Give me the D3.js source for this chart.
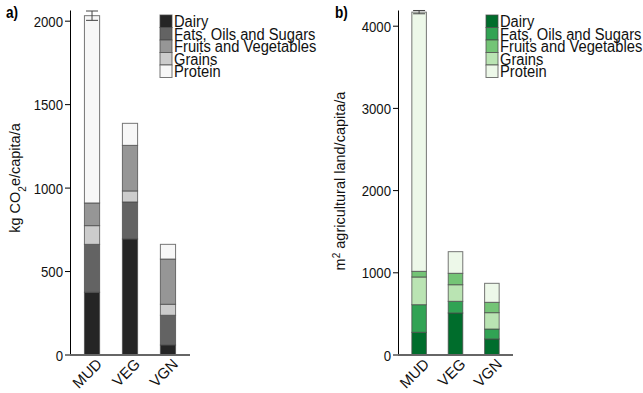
<!DOCTYPE html>
<html>
<head>
<meta charset="utf-8">
<script src="https://cdn.jsdelivr.net/npm/d3@7"></script>
<style>
  html, body { margin: 0; padding: 0; background: #fff; }
  svg { display: block; font-family: "Liberation Sans", Arial, sans-serif; }
</style>
</head>
<body>
<svg id="chart" width="643" height="393"></svg>
<script>
// Diet scenarios and food groups (stacking order bottom to top)
const categories = ["MUD", "VEG", "VGN"];
const groups = ["Dairy", "Fats, Oils and Sugars", "Grains", "Fruits and Vegetables", "Protein"];
const legendOrder = ["Dairy", "Fats, Oils and Sugars", "Fruits and Vegetables", "Grains", "Protein"];

// a) climate impact, kg CO2e per capita per year
const co2Dairy   = [373, 692, 57];
const co2Fats    = [287, 222, 178];
const co2Grains  = [112, 66, 66];
const co2Fruits  = [136, 273, 271];
const co2Protein = [1122, 132, 88];
const co2Error   = [28, 0, 0];
const co2Ticks   = [0, 500, 1000, 1500, 2000];

// b) agricultural land use, m2 per capita per year
const landDairy   = [270, 505, 189];
const landFats    = [336, 142, 121];
const landGrains  = [337, 202, 199];
const landFruits  = [69, 139, 126];
const landProtein = [3153, 263, 231];
const landError   = [20, 0, 0];
const landTicks   = [0, 1000, 2000, 3000, 4000];

const grays  = { "Dairy": "#252525", "Fats, Oils and Sugars": "#636363", "Fruits and Vegetables": "#969696", "Grains": "#cccccc", "Protein": "#f7f7f7" };
const greens = { "Dairy": "#006d2c", "Fats, Oils and Sugars": "#31a354", "Fruits and Vegetables": "#74c476", "Grains": "#bae4b3", "Protein": "#edf8e9" };

const svg = d3.select("#chart");
const SQ = 0.85; // horizontal squeeze of the tick lettering

function rows(d, f, g, fr, p) {
  return categories.map((c, i) => ({
    cat: c,
    "Dairy": d[i], "Fats, Oils and Sugars": f[i], "Grains": g[i],
    "Fruits and Vegetables": fr[i], "Protein": p[i]
  }));
}

function panel(opt) {
  const g = svg.append("g");
  const x = d3.scaleBand().domain(categories).range([opt.x0, opt.x1])
    .paddingInner(0.6).paddingOuter(0.38);
  const y = d3.scaleLinear().domain([0, opt.yMax]).range([354.5, 10]);

  const series = d3.stack().keys(groups)(opt.data);

  // stacked bars
  g.append("g").selectAll("g").data(series).join("g")
    .attr("fill", s => opt.colors[s.key])
    .selectAll("rect").data(s => s).join("rect")
      .attr("x", d => x(d.data.cat))
      .attr("width", x.bandwidth())
      .attr("y", d => y(d[1]))
      .attr("height", d => y(d[0]) - y(d[1]))
      .attr("stroke", "#4a4a4a")
      .attr("stroke-opacity", 0.75)
      .attr("stroke-width", 1);

  // error bars on totals
  const totals = opt.data.map(r => groups.reduce((a, k) => a + r[k], 0));
  opt.err.forEach((e, i) => {
    if (!e) return;
    const cx = x(categories[i]) + x.bandwidth() / 2;
    const eb = g.append("g").attr("stroke", "#444").attr("stroke-width", 1);
    eb.append("line").attr("x1", cx).attr("x2", cx).attr("y1", y(totals[i] + e)).attr("y2", y(totals[i] - e));
    eb.append("line").attr("x1", cx - 6).attr("x2", cx + 6).attr("y1", y(totals[i] + e)).attr("y2", y(totals[i] + e));
    eb.append("line").attr("x1", cx - 6).attr("x2", cx + 6).attr("y1", y(totals[i] - e)).attr("y2", y(totals[i] - e));
  });

  // y axis
  const ya = g.append("g").attr("transform", `translate(${opt.x0},0)`)
    .call(d3.axisLeft(y).tickValues(opt.ticks).tickSize(5).tickSizeOuter(0).tickFormat(d3.format("d")));
  ya.select(".domain").attr("stroke", "#000");
  ya.selectAll(".tick line").attr("stroke", "#000");
  ya.selectAll(".tick text")
    .attr("font-size", 15.5).attr("fill", "#111")
    .attr("font-family", "Liberation Sans, Arial, sans-serif")
    .attr("x", -7 / SQ).attr("dy", "0.36em")
    .attr("transform", `scale(${SQ},1)`);

  // x baseline
  g.append("line").attr("x1", opt.x0).attr("x2", opt.x1)
    .attr("y1", y(0) + 0.5).attr("y2", y(0) + 0.5)
    .attr("stroke", "#666").attr("stroke-width", 2);

  // rotated category labels
  g.append("g").selectAll("text").data(categories).join("text")
    .attr("transform", d => `translate(${x(d) + x.bandwidth() / 2 + 11},${365}) rotate(-45)`)
    .attr("text-anchor", "end")
    .attr("font-size", 15).attr("fill", "#111")
    .text(d => d);

  // panel letter
  g.append("text").attr("transform", `translate(${opt.letterX},18) scale(${SQ},1)`)
    .attr("font-size", 16).attr("font-weight", "bold").text(opt.letter);

  // y label
  const yl = g.append("text")
    .attr("transform", `translate(${opt.labelX},${opt.labelY}) rotate(-90)`)
    .attr("text-anchor", "middle").attr("font-size", 14.5).attr("fill", "#111");
  opt.label(yl);

  // legend
  const lg = g.append("g").attr("transform", `translate(${opt.legX},15)`);
  legendOrder.forEach((k, i) => {
    lg.append("rect").attr("x", 0).attr("y", i * 12.5).attr("width", 12).attr("height", 12.5)
      .attr("fill", opt.colors[k]).attr("stroke", "#4a4a4a").attr("stroke-opacity", 0.75);
    lg.append("text").attr("transform", `translate(14,${i * 12.5 + 12}) scale(0.92,1)`)
      .attr("font-size", 16).attr("fill", "#111").text(k);
  });
}

panel({
  x0: 70, x1: 190, yMax: 2064, ticks: co2Ticks,
  data: rows(co2Dairy, co2Fats, co2Grains, co2Fruits, co2Protein),
  err: co2Error, colors: grays, letter: "a)", letterX: 6,
  labelX: 20, labelY: 178, legX: 160,
  label: t => {
    t.append("tspan").text("kg CO");
    t.append("tspan").attr("baseline-shift", "sub").attr("font-size", 10).text("2");
    t.append("tspan").text("e/capita/a");
  }
});

panel({
  x0: 398, x1: 513, yMax: 4191, ticks: landTicks,
  data: rows(landDairy, landFats, landGrains, landFruits, landProtein),
  err: landError, colors: greens, letter: "b)", letterX: 335,
  labelX: 345, labelY: 181, legX: 486,
  label: t => {
    t.append("tspan").text("m");
    t.append("tspan").attr("baseline-shift", "super").attr("font-size", 10).text("2");
    t.append("tspan").text(" agricultural land/capita/a");
  }
});
</script>
</body>
</html>
